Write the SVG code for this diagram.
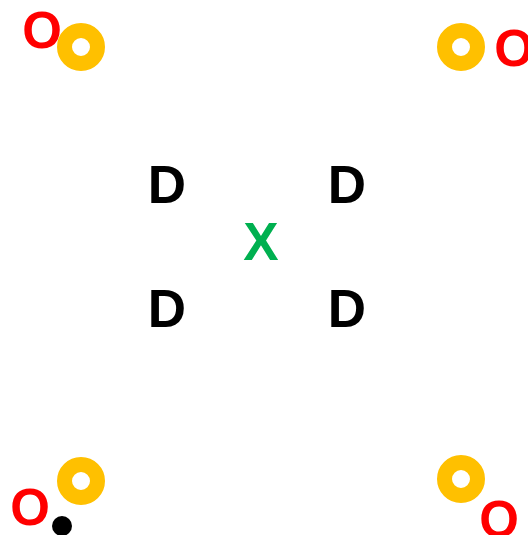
<svg xmlns="http://www.w3.org/2000/svg" width="528" height="535" viewBox="0 0 528 535">
<style>
.lbl{font-family:"Liberation Sans",Arial,sans-serif;font-weight:bold;text-anchor:middle}
.o{fill:#FF0000;font-size:51px}
.d{fill:#000000;font-size:53px}
.x{fill:#00B050;font-size:53px}
.ring{fill:none;stroke:#FFC000;stroke-width:15}
</style>
<rect width="528" height="535" fill="#FFFFFF"/>
<g id="corner-tl">
<circle class="ring" cx="81" cy="47" r="16.5"/>
<text class="lbl o" x="42" y="48">O</text>
</g>
<g id="corner-tr">
<circle class="ring" cx="461" cy="47" r="16.5"/>
<text class="lbl o" x="514" y="66">O</text>
</g>
<g id="corner-bl">
<circle class="ring" cx="81" cy="481" r="16.5"/>
<text class="lbl o" x="30" y="525">O</text>
<circle cx="62" cy="526" r="10" fill="#000000"/>
</g>
<g id="corner-br">
<circle class="ring" cx="461" cy="479" r="16.5"/>
<text class="lbl o" x="499" y="537">O</text>
</g>
<g id="d-tl"><text class="lbl d" x="167" y="203">D</text></g>
<g id="d-tr"><text class="lbl d" x="347" y="203">D</text></g>
<g id="d-bl"><text class="lbl d" x="167" y="327">D</text></g>
<g id="d-br"><text class="lbl d" x="347" y="327">D</text></g>
<g id="center"><text class="lbl x" x="261" y="260">X</text></g>
<g id="connectors"/>
</svg>
